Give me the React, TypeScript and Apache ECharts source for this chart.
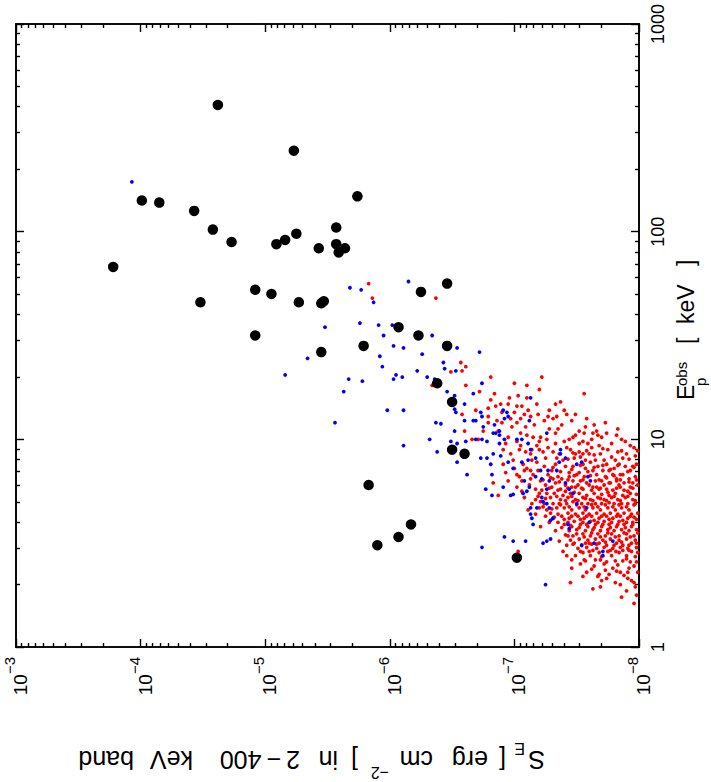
import React, { useEffect, useRef } from "react";
import * as echarts from "echarts";

// Values, as log10(S_E [erg cm^-2]) and log10(E_p [keV]).
const blackLog: [number, number][] = [
  [-4.62, 2.61], [-5.23, 2.39], [-4.01, 2.15], [-4.15, 2.14], [-4.43, 2.10],
  [-5.74, 2.17], [-4.58, 2.01], [-4.73, 1.95], [-5.57, 2.02], [-5.25, 1.99],
  [-5.16, 1.96], [-5.09, 1.94], [-5.43, 1.92], [-5.57, 1.94], [-5.64, 1.92],
  [-5.59, 1.90], [-3.78, 1.83], [-4.92, 1.72], [-5.05, 1.70], [-4.48, 1.66],
  [-5.27, 1.66], [-5.45, 1.655], [-5.47, 1.665], [-4.92, 1.50], [-5.45, 1.42],
  [-5.79, 1.45], [-6.46, 1.75], [-6.25, 1.71], [-6.07, 1.54], [-6.23, 1.50],
  [-6.46, 1.45], [-6.38, 1.27], [-6.50, 1.18], [-6.50, 0.95], [-6.60, 0.93],
  [-5.83, 0.78], [-6.17, 0.59], [-6.07, 0.53], [-5.90, 0.49], [-7.02, 0.43],
];

const blueLog: [number, number][] = [
  [-3.93, 2.24], [-5.68, 1.73], [-5.77, 1.72], [-5.87, 1.66], [-5.48, 1.54],
  [-5.76, 1.56], [-5.91, 1.55], [-5.34, 1.39], [-5.92, 1.40], [-5.16, 1.31],
  [-5.67, 1.29], [-6.15, 1.76], [-6.02, 1.55], [-5.95, 1.50], [-6.03, 1.45],
  [-6.11, 1.44], [-6.34, 1.50], [-6.26, 1.41], [-5.94, 1.35], [-5.63, 1.23],
  [-5.78, 1.28], [-6.03, 1.29], [-6.05, 1.31], [-6.10, 1.30], [-6.22, 1.33],
  [-6.30, 1.30], [-6.36, 1.29], [-6.43, 1.37], [-6.44, 1.34], [-6.53, 1.33],
  [-6.54, 1.44], [-6.72, 1.42], [-6.46, 1.23], [-6.52, 1.21], [-6.39, 1.27],
  [-6.74, 1.27], [-6.67, 1.22], [-6.60, 1.17], [-6.53, 1.13], [-6.52, 1.145],
  [-5.98, 1.14], [-6.11, 1.14], [-5.56, 1.08], [-6.37, 1.08], [-6.41, 1.075],
  [-6.52, 1.04], [-6.60, 1.09], [-6.67, 1.09], [-6.69, 1.09], [-6.74, 1.11],
  [-6.73, 1.13], [-6.75, 1.06], [-6.69, 1.00], [-6.74, 1.00], [-6.32, 1.00],
  [-6.11, 0.97], [-6.49, 0.99], [-6.54, 0.98], [-6.61, 0.99], [-6.38, 0.94],
  [-6.54, 0.89], [-6.62, 0.83], [-6.78, 0.99], [-6.78, 0.91], [-6.73, 0.91],
  [-6.81, 0.88], [-6.83, 0.93], [-6.83, 1.03], [-6.84, 1.07], [-6.85, 1.03],
  [-6.88, 1.04], [-6.91, 1.14], [-6.94, 1.13], [-6.95, 1.11], [-6.92, 1.10],
  [-6.92, 1.00], [-6.88, 0.98], [-6.88, 1.02], [-6.89, 0.92], [-6.95, 0.89],
  [-6.99, 0.86], [-7.02, 1.00], [-7.06, 1.00], [-7.12, 1.09], [-7.13, 1.20],
  [-7.11, 0.98], [-7.13, 0.95], [-7.11, 0.90], [-7.06, 0.89], [-6.82, 0.83],
  [-6.77, 0.76], [-6.82, 0.73], [-6.91, 0.77], [-6.97, 0.73], [-6.99, 0.735],
  [-7.07, 0.74], [-7.10, 0.75], [-7.12, 0.77], [-7.08, 0.80], [-7.17, 0.82],
  [-7.21, 0.85], [-7.22, 0.81], [-7.26, 1.03], [-7.17, 0.91], [-7.27, 0.85],
  [-7.28, 0.80], [-7.26, 0.76], [-7.22, 0.72], [-7.23, 0.70], [-7.26, 0.69],
  [-7.13, 0.67], [-7.18, 0.67], [-7.13, 0.64], [-7.14, 0.62], [-7.15, 0.59],
  [-7.28, 0.67], [-7.31, 0.62], [-7.29, 0.61], [-7.37, 0.95], [-7.36, 0.89],
  [-7.41, 0.91], [-7.34, 0.85], [-7.37, 0.93], [-7.41, 0.79], [-7.44, 0.76],
  [-7.47, 0.74], [-7.50, 0.69], [-7.58, 0.67], [-7.54, 0.89], [-7.50, 0.88],
  [-7.59, 0.82], [-7.61, 0.80], [-7.43, 0.59], [-7.44, 0.57], [-7.60, 0.60],
  [-7.64, 0.50], [-7.79, 0.51], [-7.54, 0.49], [-7.71, 0.46], [-7.71, 0.44],
  [-6.92, 0.53], [-6.99, 0.51], [-7.09, 0.51], [-7.23, 0.50], [-7.26, 0.51],
  [-7.29, 0.52], [-6.74, 0.48], [-7.25, 0.30],
];

const redLog: [number, number][] = [
  [-5.83, 1.75], [-5.86, 1.68], [-6.37, 1.68], [-6.57, 1.37], [-6.61, 1.35],
  [-6.58, 1.33], [-6.49, 1.325], [-6.34, 1.26], [-6.61, 1.26], [-6.81, 1.30],
  [-6.72, 1.23], [-7.00, 1.27], [-7.10, 1.26], [-7.22, 1.30], [-7.56, 1.22],
  [-7.10, 1.20], [-7.18, 1.17], [-7.03, 1.21], [-6.95, 1.17], [-6.89, 1.17],
  [-6.81, 1.19], [-6.85, 1.16], [-6.79, 1.15], [-6.69, 1.14], [-6.58, 1.12],
  [-6.90, 1.13], [-7.02, 1.16], [-7.11, 1.14], [-7.28, 1.14], [-7.33, 1.17],
  [-7.37, 1.18], [-7.40, 1.14], [-7.34, 1.11], [-7.27, 1.11], [-7.49, 1.12],
  [-6.90, 1.08], [-7.02, 1.08], [-7.05, 1.10], [-7.13, 1.11], [-6.79, 1.11],
  [-6.79, 1.08], [-6.60, 1.04], [-6.66, 1.00], [-6.71, 1.00], [-6.75, 1.04],
  [-6.87, 1.04], [-6.93, 0.98], [-6.97, 0.93], [-6.91, 0.88], [-6.87, 0.73],
  [-6.83, 0.79], [-7.05, 1.03], [-7.10, 1.02], [-7.15, 1.01], [-7.21, 1.01],
  [-7.26, 1.00], [-7.33, 1.03], [-7.33, 0.98], [-7.44, 1.00], [-7.49, 1.02],
  [-7.56, 1.03], [-7.57, 1.06], [-7.63, 1.03], [-7.67, 1.02], [-7.52, 0.98],
  [-7.59, 0.98], [-7.45, 0.95], [-7.49, 0.93], [-7.55, 0.93], [-7.60, 0.93],
  [-7.48, 0.91], [-7.57, 0.90], [-7.65, 0.90], [-7.72, 0.90], [-7.81, 0.90],
  [-7.87, 0.91], [-7.84, 0.88], [-7.95, 0.87], [-7.04, 0.95], [-7.09, 0.94],
  [-7.14, 0.95], [-7.20, 0.95], [-7.23, 0.94], [-7.31, 0.94], [-7.34, 0.91],
  [-7.25, 0.91], [-7.18, 0.89], [-7.14, 0.90], [-7.07, 0.88], [-7.00, 0.86],
  [-7.02, 0.83], [-7.08, 0.85], [-7.13, 0.85], [-7.19, 0.85], [-7.30, 0.85],
  [-7.41, 0.87], [-7.47, 0.87], [-7.44, 0.84], [-7.52, 0.84], [-7.57, 0.86],
  [-7.63, 0.85], [-7.71, 0.85], [-7.76, 0.85], [-7.79, 0.83], [-7.85, 0.83],
  [-7.92, 0.81], [-7.06, 0.80], [-7.13, 0.81], [-7.21, 0.80], [-7.31, 0.81],
  [-7.38, 0.81], [-7.47, 0.80], [-7.53, 0.80], [-7.58, 0.79], [-7.65, 0.80],
  [-7.70, 0.80], [-7.76, 0.79], [-7.82, 0.80], [-7.88, 0.79], [-7.95, 0.79],
  [-7.30, 0.77], [-7.37, 0.76], [-7.41, 0.75], [-7.49, 0.77], [-7.55, 0.76],
  [-7.63, 0.77], [-7.68, 0.76], [-7.74, 0.76], [-7.79, 0.755], [-7.85, 0.77],
  [-7.91, 0.75], [-7.17, 0.71], [-7.21, 0.70], [-7.29, 0.72], [-7.37, 0.71],
  [-7.43, 0.72], [-7.49, 0.71], [-7.55, 0.72], [-7.61, 0.71], [-7.67, 0.72],
  [-7.72, 0.71], [-7.78, 0.72], [-7.83, 0.71], [-7.89, 0.72], [-7.95, 0.71],
  [-7.20, 0.67], [-7.26, 0.66], [-7.34, 0.67], [-7.40, 0.67], [-7.46, 0.66],
  [-7.52, 0.67], [-7.57, 0.66], [-7.63, 0.67], [-7.69, 0.66], [-7.75, 0.67],
  [-7.81, 0.66], [-7.86, 0.67], [-7.92, 0.66], [-7.25, 0.63], [-7.31, 0.62],
  [-7.38, 0.63], [-7.44, 0.62], [-7.51, 0.63], [-7.56, 0.62], [-7.62, 0.63],
  [-7.68, 0.62], [-7.74, 0.63], [-7.79, 0.62], [-7.85, 0.63], [-7.91, 0.62],
  [-7.96, 0.625], [-7.40, 0.59], [-7.46, 0.58], [-7.53, 0.59], [-7.59, 0.58],
  [-7.65, 0.59], [-7.70, 0.58], [-7.76, 0.59], [-7.82, 0.58], [-7.88, 0.59],
  [-7.94, 0.58], [-7.41, 0.54], [-7.47, 0.535], [-7.55, 0.545], [-7.61, 0.535],
  [-7.67, 0.545], [-7.73, 0.535], [-7.78, 0.545], [-7.84, 0.535], [-7.90, 0.545],
  [-7.96, 0.535], [-7.42, 0.49], [-7.48, 0.50], [-7.57, 0.50], [-7.62, 0.495],
  [-7.68, 0.50], [-7.74, 0.49], [-7.82, 0.50], [-7.87, 0.49], [-7.94, 0.50],
  [-7.53, 0.46], [-7.60, 0.46], [-7.75, 0.46], [-7.815, 0.46], [-7.87, 0.465],
  [-7.94, 0.46], [-7.46, 0.42], [-7.56, 0.42], [-7.65, 0.42], [-7.74, 0.41],
  [-7.79, 0.38], [-7.87, 0.415], [-7.93, 0.41], [-7.46, 0.38], [-7.67, 0.34],
  [-7.68, 0.35], [-7.85, 0.36], [-7.91, 0.36], [-7.91, 0.33], [-7.96, 0.31],
  [-7.63, 0.28], [-7.97, 0.29], [-7.96, 0.21], [-7.03, 0.46],
];

// Further red points read from the dense lower-right part of the cloud.
const redDenseLog: [number, number][] = [
  [-7.36, 0.93], [-7.42, 0.96], [-7.52, 0.94], [-7.62, 0.96], [-7.69, 0.93],
  [-7.75, 0.95], [-7.83, 0.94], [-7.90, 0.93], [-7.97, 0.92], [-7.33, 0.88],
  [-7.39, 0.90], [-7.55, 0.88], [-7.61, 0.89], [-7.67, 0.87], [-7.74, 0.88],
  [-7.80, 0.86], [-7.89, 0.87], [-7.93, 0.85], [-7.98, 0.88], [-7.27, 0.83],
  [-7.35, 0.82], [-7.44, 0.82], [-7.50, 0.83], [-7.56, 0.82], [-7.66, 0.83],
  [-7.73, 0.82], [-7.82, 0.81], [-7.87, 0.83], [-7.97, 0.82], [-7.25, 0.78],
  [-7.33, 0.79], [-7.41, 0.78], [-7.46, 0.77], [-7.51, 0.78], [-7.60, 0.78],
  [-7.66, 0.77], [-7.72, 0.78], [-7.77, 0.79], [-7.84, 0.78], [-7.93, 0.77],
  [-7.99, 0.78], [-7.26, 0.74], [-7.32, 0.74], [-7.39, 0.73], [-7.45, 0.74],
  [-7.52, 0.74], [-7.58, 0.73], [-7.64, 0.74], [-7.70, 0.735], [-7.76, 0.73],
  [-7.81, 0.74], [-7.87, 0.73], [-7.93, 0.74], [-7.98, 0.735], [-7.24, 0.69],
  [-7.31, 0.69], [-7.36, 0.69], [-7.42, 0.69], [-7.47, 0.70], [-7.54, 0.69],
  [-7.59, 0.69], [-7.65, 0.69], [-7.70, 0.69], [-7.76, 0.695], [-7.80, 0.69],
  [-7.86, 0.69], [-7.91, 0.69], [-7.97, 0.69], [-7.29, 0.645], [-7.35, 0.64],
  [-7.43, 0.645], [-7.49, 0.64], [-7.55, 0.645], [-7.60, 0.64], [-7.66, 0.645],
  [-7.72, 0.64], [-7.77, 0.645], [-7.83, 0.64], [-7.88, 0.645], [-7.94, 0.64],
  [-7.99, 0.645], [-7.35, 0.60], [-7.43, 0.60], [-7.48, 0.605], [-7.55, 0.60],
  [-7.61, 0.605], [-7.67, 0.60], [-7.72, 0.605], [-7.78, 0.60], [-7.84, 0.605],
  [-7.90, 0.60], [-7.95, 0.60], [-7.44, 0.56], [-7.50, 0.565], [-7.57, 0.56],
  [-7.63, 0.565], [-7.69, 0.56], [-7.75, 0.565], [-7.80, 0.56], [-7.86, 0.565],
  [-7.92, 0.56], [-7.98, 0.565], [-7.45, 0.515], [-7.52, 0.52], [-7.59, 0.515],
  [-7.65, 0.52], [-7.71, 0.515], [-7.77, 0.52], [-7.84, 0.515], [-7.90, 0.52],
  [-7.97, 0.515], [-7.51, 0.475], [-7.58, 0.48], [-7.66, 0.475], [-7.72, 0.48],
  [-7.79, 0.475], [-7.85, 0.48], [-7.91, 0.475], [-7.98, 0.48], [-7.49, 0.44],
  [-7.61, 0.44], [-7.70, 0.435], [-7.78, 0.44], [-7.90, 0.44], [-7.97, 0.435],
  [-7.53, 0.40], [-7.64, 0.39], [-7.72, 0.40], [-7.83, 0.395], [-7.96, 0.39],
  [-7.58, 0.36], [-7.76, 0.35], [-7.88, 0.345], [-7.99, 0.36], [-7.70, 0.32],
  [-7.85, 0.30], [-7.94, 0.32], [-7.45, 0.31], [-7.55, 0.34],
  [-6.84, 1.22], [-6.96, 1.20], [-7.06, 1.16], [-7.20, 1.24], [-6.86, 1.09],
  [-6.98, 1.06], [-7.08, 1.12], [-7.16, 1.07], [-7.24, 1.09], [-6.95, 1.01],
  [-7.02, 0.99], [-7.18, 0.97], [-7.28, 1.05], [-7.38, 1.07], [-7.46, 1.09],
  [-7.52, 1.04], [-7.64, 1.07], [-7.70, 1.01], [-7.78, 0.98], [-7.93, 0.97],
  [-7.86, 1.00], [-6.91, 0.95], [-6.99, 0.90], [-7.10, 0.86], [-7.24, 0.87],
  [-6.95, 0.80], [-7.02, 0.77], [-7.17, 0.76], [-7.08, 0.72], [-7.14, 0.69],
  [-7.43, 0.905], [-7.47, 0.935], [-7.53, 0.915], [-7.58, 0.945], [-7.64, 0.925],
  [-7.71, 0.955], [-7.78, 0.915], [-7.86, 0.945], [-7.92, 0.905], [-7.99, 0.945],
  [-7.31, 0.865], [-7.37, 0.845], [-7.46, 0.855], [-7.53, 0.875], [-7.59, 0.845],
  [-7.64, 0.865], [-7.71, 0.875], [-7.77, 0.855], [-7.83, 0.875], [-7.91, 0.845],
  [-7.96, 0.865], [-7.23, 0.805], [-7.29, 0.815], [-7.36, 0.795], [-7.43, 0.805],
  [-7.48, 0.825], [-7.55, 0.805], [-7.61, 0.825], [-7.68, 0.805], [-7.74, 0.815],
  [-7.80, 0.825], [-7.85, 0.805], [-7.92, 0.795], [-7.98, 0.805], [-7.22, 0.755],
  [-7.28, 0.765], [-7.35, 0.755], [-7.43, 0.765], [-7.48, 0.745], [-7.54, 0.765],
  [-7.62, 0.755], [-7.69, 0.765], [-7.75, 0.745], [-7.82, 0.765], [-7.88, 0.755],
  [-7.95, 0.765], [-7.19, 0.725], [-7.25, 0.715], [-7.34, 0.725], [-7.41, 0.705],
  [-7.46, 0.725], [-7.51, 0.705], [-7.57, 0.715], [-7.63, 0.705], [-7.69, 0.715],
  [-7.74, 0.705], [-7.80, 0.725], [-7.85, 0.705], [-7.91, 0.725], [-7.97, 0.705],
  [-7.23, 0.675], [-7.30, 0.665], [-7.37, 0.685], [-7.44, 0.675], [-7.50, 0.685],
  [-7.56, 0.675], [-7.62, 0.685], [-7.67, 0.675], [-7.73, 0.685], [-7.79, 0.675],
  [-7.84, 0.685], [-7.90, 0.675], [-7.96, 0.685], [-7.32, 0.625], [-7.40, 0.615],
  [-7.46, 0.630], [-7.53, 0.615], [-7.58, 0.630], [-7.64, 0.610], [-7.70, 0.630],
  [-7.76, 0.615], [-7.82, 0.630], [-7.87, 0.610], [-7.93, 0.630], [-7.98, 0.615],
  [-7.38, 0.575], [-7.45, 0.585], [-7.52, 0.575], [-7.58, 0.590], [-7.64, 0.575],
  [-7.71, 0.590], [-7.77, 0.575], [-7.83, 0.590], [-7.89, 0.575], [-7.95, 0.590],
  [-7.43, 0.535], [-7.50, 0.545], [-7.56, 0.530], [-7.62, 0.550], [-7.69, 0.530],
  [-7.75, 0.550], [-7.81, 0.530], [-7.88, 0.550], [-7.93, 0.530], [-7.99, 0.550],
  [-7.47, 0.495], [-7.54, 0.490], [-7.60, 0.500], [-7.66, 0.495], [-7.73, 0.505],
  [-7.80, 0.490], [-7.86, 0.505], [-7.92, 0.490], [-7.98, 0.500], [-7.55, 0.455],
  [-7.63, 0.465], [-7.68, 0.455], [-7.77, 0.465], [-7.84, 0.455], [-7.92, 0.465],
  [-7.99, 0.455], [-7.57, 0.415], [-7.69, 0.420], [-7.81, 0.415], [-7.90, 0.425],
  [-7.98, 0.410], [-7.62, 0.375], [-7.73, 0.370], [-7.82, 0.365], [-7.92, 0.380],
  [-7.74, 0.330], [-7.81, 0.310], [-7.90, 0.270], [-7.98, 0.250], [-7.69, 0.290],
  [-7.86, 0.240], [-7.05, 0.97], [-7.13, 0.93], [-7.20, 0.99], [-7.27, 0.96],
  [-7.40, 0.99], [-7.47, 1.01], [-7.55, 0.99], [-7.62, 1.00], [-7.68, 0.97],
  [-7.74, 1.03], [-7.82, 1.02], [-7.89, 0.99], [-7.96, 0.96], [-6.97, 1.10],
  [-7.00, 1.13], [-7.09, 1.06], [-7.19, 1.12], [-7.31, 1.10], [-7.35, 1.05],
  [-7.42, 1.12], [-7.58, 1.10], [-7.66, 1.04], [-7.73, 1.08], [-7.83, 1.05],
  [-6.93, 0.84], [-7.04, 0.82], [-7.12, 0.78], [-7.15, 0.83], [-7.20, 0.74],
  [-7.06, 0.75], [-7.11, 0.66], [-7.17, 0.64], [-7.21, 0.58], [-7.28, 0.60],
  [-7.33, 0.56], [-7.36, 0.51], [-7.39, 0.46], [-7.42, 0.44],
];

// Axis tick values
const xMajor = [1e-8, 1e-7, 1e-6, 1e-5, 1e-4, 1e-3];
const yMajor = [1, 10, 100, 1000];
const multiples = [2, 3, 4, 5, 6, 7, 8, 9];
const xMinor: number[] = [];
[1e-8, 1e-7, 1e-6, 1e-5, 1e-4].forEach((d) => multiples.forEach((m) => xMinor.push(m * d)));
const yMinor: number[] = [];
[1, 10, 100].forEach((d) => multiples.forEach((m) => yMinor.push(m * d)));

const FONT = "Liberation Sans, Arial, Helvetica, sans-serif";
const toVal = (a: [number, number][]) => a.map(([s, e]) => [Math.pow(10, s), Math.pow(10, e)]);

export default function App() {
  const ref = useRef<HTMLDivElement>(null);
  useEffect(() => {
    if (!ref.current) return;
    const chart = echarts.init(ref.current, undefined, { renderer: "svg" });
    const line = { show: true, onZero: false, lineStyle: { color: "#000", width: 1.6 } };
    const xAx = (pos: string, ticks: number[], len: number, label: boolean) => ({
      type: "log", logBase: 10, min: 1e-8, max: 1e-3, inverse: true, position: pos,
      axisLine: line,
      axisTick: { show: true, inside: true, length: len, customValues: ticks, lineStyle: { color: "#000", width: 1.4 } },
      axisLabel: label
        ? {
            show: true, customValues: xMajor, rotate: 90, margin: 10, color: "#000",
            fontFamily: FONT,
            formatter: (v: number) => {
              const e = Math.round(Math.log10(v));
              return `{b|10}{e|${e < 0 ? "\u2212" + -e : e}}`;
            },
            rich: {
              b: { fontSize: 19, fontFamily: FONT, color: "#000", padding: [9, 0, 0, 0] },
              e: { fontSize: 15, fontFamily: FONT, color: "#000", verticalAlign: "top" },
            },
          }
        : { show: false },
      splitLine: { show: false }, minorTick: { show: false }, minorSplitLine: { show: false },
    });
    const yAx = (pos: string, ticks: number[], len: number, label: boolean) => ({
      type: "log", logBase: 10, min: 1, max: 1000, position: pos,
      axisLine: line,
      axisTick: { show: true, inside: true, length: len, customValues: ticks, lineStyle: { color: "#000", width: 1.4 } },
      axisLabel: label
        ? { show: true, customValues: yMajor, rotate: 90, margin: 10, color: "#000", fontSize: 18, fontFamily: FONT,
            formatter: (v: number) => String(Math.round(v)) }
        : { show: false },
      splitLine: { show: false }, minorTick: { show: false }, minorSplitLine: { show: false },
    });
    const txt = (text: string, x: number, y: number, rot: number, size: number) => ({
      type: "text", x, y, rotation: rot,
      style: { text, fontSize: size, fontFamily: FONT, fill: "#000", align: "left", verticalAlign: "middle" },
    });
    const P = Math.PI;
    const H = Math.PI / 2;
    const dot = (data: [number, number][], color: string, size: number) => ({
      type: "scatter", xAxisIndex: 0, yAxisIndex: 0, data: toVal(data), symbol: "circle", symbolSize: size,
      itemStyle: { color, opacity: 1 }, silent: true,
    });
    chart.setOption({
      animation: false,
      backgroundColor: "#fff",
      grid: { left: 16, top: 24, width: 623, height: 623, containLabel: false },
      xAxis: [xAx("bottom", xMajor, 8, true), xAx("bottom", xMinor, 4, false), xAx("top", xMajor, 8, false), xAx("top", xMinor, 4, false)],
      yAxis: [yAx("right", yMajor, 8, true), yAx("right", yMinor, 4, false), yAx("left", yMajor, 8, false), yAx("left", yMinor, 4, false)],
      series: [
        dot(redLog, "#ff0000", 3.8),
        dot(redDenseLog, "#ff0000", 3.8),
        dot(blueLog, "#0000ff", 3.8),
        dot(blackLog, "#000000", 10.5),
      ],
      graphic: [
        // bottom title, upside down
        txt("S", 545, 760, P, 25),
        txt("E", 525, 748, P, 16),
        txt("[", 506, 760, P, 25),
        txt("erg", 488, 760, P, 25),
        txt("cm", 433, 760, P, 25),
        txt("\u22122", 389, 772, P, 16),
        txt("]", 358, 760, P, 25),
        txt("in", 338, 760, P, 25),
        txt("2\u2009\u2212\u2009400", 300, 760, P, 25),
        txt("keV", 193, 760, P, 25),
        txt("band", 134, 760, P, 25),
        // right title, reading upward
        txt("E", 686, 400, H, 23),
        txt("obs", 681, 386, H, 15),
        txt("p", 700, 386, H, 15),
        txt("[", 686, 344, H, 23),
        txt("keV", 686, 324, H, 23),
        txt("]", 686, 266, H, 23),
      ],
    });
    return () => chart.dispose();
  }, []);
  return <div ref={ref} style={{ position: "fixed", left: 0, top: 0, width: 711, height: 782, background: "#fff" }} />;
}
